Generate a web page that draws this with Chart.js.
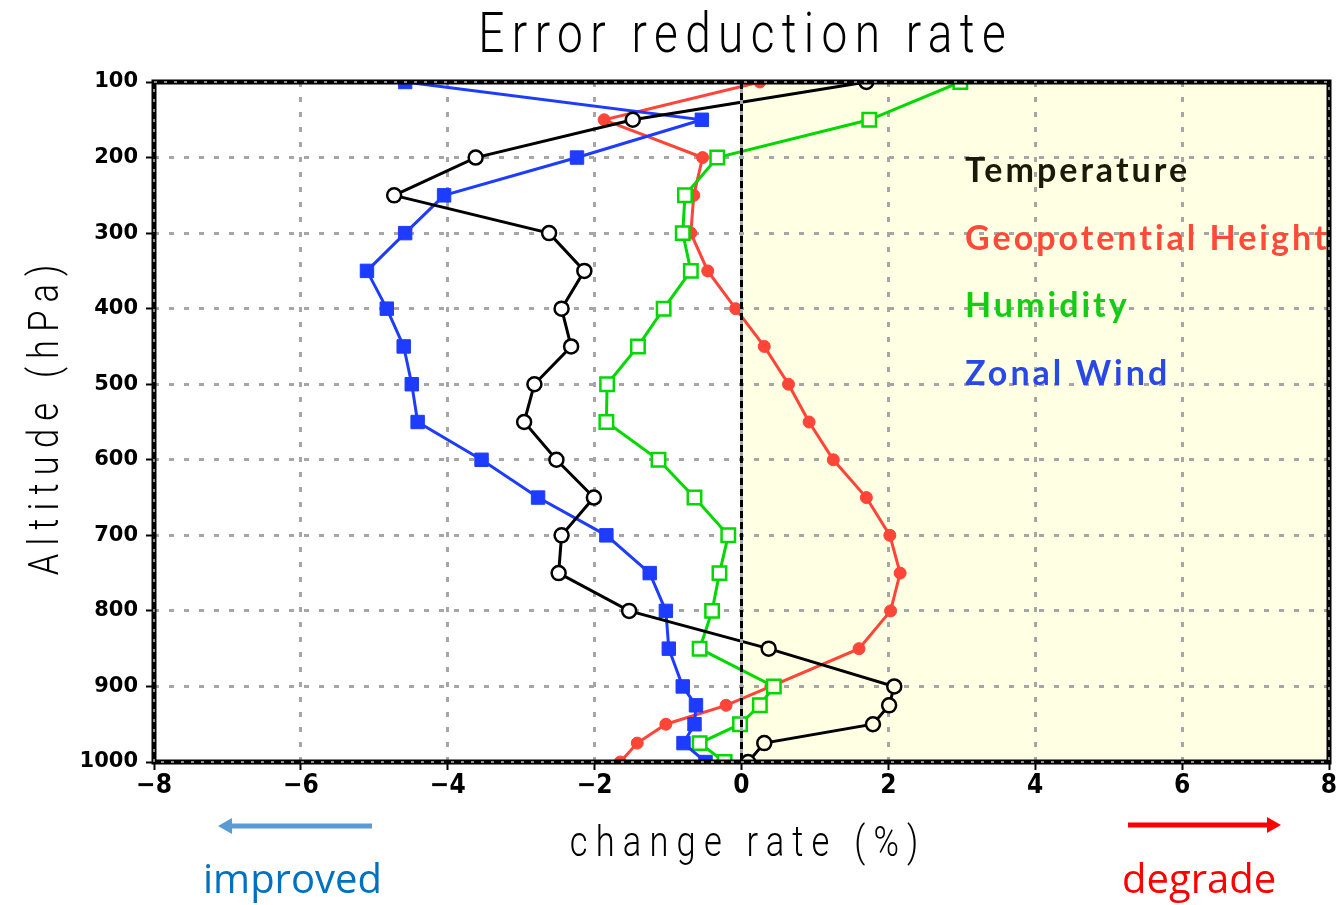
<!DOCTYPE html>
<html>
<head>
<meta charset="utf-8">
<title>Error reduction rate</title>
<script src="https://cdn.jsdelivr.net/npm/chart.js@4.4.1/dist/chart.umd.min.js"></script>
<style>
  html, body { margin: 0; padding: 0; background: #fff; overflow: hidden; }
  canvas { display: block; }
</style>
</head>
<body>
<canvas id="errorChart" width="1341" height="905"></canvas>
<script>
// pressure levels (hPa), top of the profile first
const levels = [100, 150, 200, 250, 300, 350, 400, 450, 500, 550, 600, 650, 700, 750, 800, 850, 900, 925, 950, 975, 1000];

// change rate (%) per level
const temperature = [1.70, -1.48, -3.62, -4.73, -2.62, -2.14, -2.45, -2.32, -2.82, -2.96, -2.52, -2.01, -2.45, -2.49, -1.53, 0.37, 2.08, 2.01, 1.79, 0.31, 0.09];
const geopotential = [0.25, -1.87, -0.53, -0.65, -0.69, -0.46, -0.08, 0.31, 0.64, 0.92, 1.25, 1.70, 2.02, 2.16, 2.03, 1.60, 0.40, -0.21, -1.03, -1.42, -1.65];
const humidity = [2.98, 1.74, -0.33, -0.77, -0.80, -0.69, -1.06, -1.41, -1.83, -1.84, -1.13, -0.64, -0.18, -0.30, -0.40, -0.57, 0.44, 0.25, -0.02, -0.57, -0.23];
const zonalWind = [-4.58, -0.54, -2.24, -4.05, -4.58, -5.10, -4.83, -4.60, -4.49, -4.41, -3.54, -2.77, -1.84, -1.25, -1.03, -0.99, -0.80, -0.62, -0.64, -0.79, -0.49];

const xTicks = [-8, -6, -4, -2, 0, 2, 4, 6, 8];
const yTicks = [100, 200, 300, 400, 500, 600, 700, 800, 900, 1000];

const SHADE = '#ffffe4';

function profile(values) {
    return values.map((v, i) => ({ x: v, y: levels[i] }));
}

// open markers take the colour of whatever is behind them
function openFill(ctx) {
    return ctx.raw && ctx.raw.x > 0 ? SHADE : '#ffffff';
}

// thin, horizontally squeezed lettering for the titles
function narrowText(ctx, text, x, y, size, spacing, angle) {
    ctx.save();
    ctx.translate(x, y);
    if (angle) ctx.rotate(angle);
    ctx.scale(0.82, 1);
    ctx.font = '300 ' + size + 'px Roboto, "Liberation Sans", sans-serif';
    ctx.letterSpacing = spacing + 'px';
    ctx.textAlign = 'center';
    ctx.fillText(text, spacing / 2, 0);
    ctx.restore();
}

function drawArrow(ctx, from, to, y, color) {
    const dir = Math.sign(to - from);
    const head = 14;
    ctx.save();
    ctx.strokeStyle = color;
    ctx.fillStyle = color;
    ctx.lineWidth = 5;
    ctx.beginPath();
    ctx.moveTo(from, y);
    ctx.lineTo(to - dir * head, y);
    ctx.stroke();
    ctx.beginPath();
    ctx.moveTo(to, y);
    ctx.lineTo(to - dir * head, y - 8);
    ctx.lineTo(to - dir * head, y + 8);
    ctx.closePath();
    ctx.fill();
    ctx.restore();
}

const decorations = {
    id: 'decorations',
    beforeDraw(chart) {
        const { ctx, chartArea: a, scales: { x } } = chart;
        ctx.save();
        ctx.fillStyle = '#ffffff';
        ctx.fillRect(0, 0, chart.width, chart.height);
        // degraded half of the plot
        const x0 = x.getPixelForValue(0);
        ctx.fillStyle = SHADE;
        ctx.fillRect(x0, a.top, a.right - x0, a.bottom - a.top);
        ctx.restore();
    },
    afterDatasetsDraw(chart) {
        const { ctx, chartArea: a, scales: { x } } = chart;
        const x0 = x.getPixelForValue(0);
        ctx.save();
        // zero line
        ctx.lineWidth = 3;
        ctx.strokeStyle = '#a8a8a8';
        ctx.beginPath();
        ctx.moveTo(x0, a.top);
        ctx.lineTo(x0, a.bottom);
        ctx.stroke();
        ctx.setLineDash([7, 4]);
        ctx.strokeStyle = '#000';
        ctx.stroke();

        // heavy frame with dotted inlay
        ctx.setLineDash([]);
        ctx.lineWidth = 5;
        ctx.strokeStyle = '#000';
        ctx.strokeRect(a.left, a.top, a.right - a.left, a.bottom - a.top);
        ctx.setLineDash([3, 7]);
        ctx.lineWidth = 1.5;
        ctx.strokeStyle = '#b8b8b8';
        ctx.strokeRect(a.left, a.top, a.right - a.left, a.bottom - a.top);
        ctx.restore();
    },
    afterDraw(chart) {
        const { ctx } = chart;
        ctx.save();
        ctx.fillStyle = '#000';
        ctx.textBaseline = 'alphabetic';

        narrowText(ctx, 'Error reduction rate', 742, 52, 56, 9);
        narrowText(ctx, 'change rate (%)', 744, 856, 42, 10);
        narrowText(ctx, 'Altitude (hPa)', 58, 420, 42, 10, -Math.PI / 2);

        // legend, one line per series
        ctx.textAlign = 'left';
        ctx.font = 'bold 34px Lato';
        ctx.letterSpacing = '3px';
        chart.data.datasets.forEach((ds, i) => {
            ctx.fillStyle = ds.legendColor;
            ctx.fillText(ds.label, 965, 182 + i * 67.5);
        });

        // direction hints under the axis
        ctx.letterSpacing = '0px';
        ctx.font = '40px "Open Sans"';
        ctx.fillStyle = '#0070c0';
        ctx.fillText('improved', 203, 893);
        ctx.fillStyle = '#ff0000';
        ctx.fillText('degrade', 1122, 893);

        drawArrow(ctx, 372, 218, 826, '#5b9bd5');
        drawArrow(ctx, 1128, 1281, 825, '#ff0000');
        ctx.restore();
    }
};

const ctx = document.getElementById('errorChart').getContext('2d');

new Chart(ctx, {
    type: 'scatter',
    data: {
        datasets: [
            {
                label: 'Temperature',
                data: profile(temperature),
                legendColor: '#1a1a08',
                borderColor: '#000000',
                backgroundColor: openFill,
                pointStyle: 'circle',
                pointRadius: 7,
                pointBorderWidth: 2.5,
                borderWidth: 3,
                showLine: true,
                order: 0
            },
            {
                label: 'Geopotential Height',
                data: profile(geopotential),
                legendColor: '#ff4a3a',
                borderColor: '#ff4438',
                backgroundColor: '#ff4438',
                pointStyle: 'circle',
                pointRadius: 6,
                pointBorderWidth: 1,
                borderWidth: 3,
                showLine: true,
                order: 3
            },
            {
                label: 'Humidity',
                data: profile(humidity),
                legendColor: '#14cc14',
                borderColor: '#00d800',
                backgroundColor: openFill,
                pointStyle: 'rect',
                pointRadius: 9.5,
                pointBorderWidth: 2.5,
                borderWidth: 3,
                showLine: true,
                order: 2
            },
            {
                label: 'Zonal Wind',
                data: profile(zonalWind),
                legendColor: '#2a48e6',
                borderColor: '#1e3cff',
                backgroundColor: '#1e3cff',
                pointStyle: 'rect',
                pointRadius: 9.5,
                pointBorderWidth: 1,
                borderWidth: 3,
                showLine: true,
                order: 1
            }
        ]
    },
    options: {
        responsive: false,
        animation: false,
        devicePixelRatio: 1,
        layout: {
            padding: { top: 82, right: 7, left: 0, bottom: 0 }
        },
        plugins: {
            legend: { display: false },
            tooltip: { enabled: false }
        },
        scales: {
            x: {
                type: 'linear',
                min: -8,
                max: 8,
                afterFit: scale => { scale.height = 143; },
                afterBuildTicks: scale => { scale.ticks = xTicks.map(v => ({ value: v })); },
                ticks: {
                    padding: 1,
                    color: '#000',
                    font: { family: '"DejaVu Sans Condensed", "Liberation Sans", sans-serif', size: 26, weight: 'bold' },
                    callback: v => (v < 0 ? '\u2212' + Math.abs(v) : String(v))
                },
                grid: {
                    color: '#a6a6a6',
                    lineWidth: 3,
                    tickColor: '#000',
                    tickWidth: 2,
                    tickLength: 8
                },
                border: { display: false, dash: [5, 10] }
            },
            y: {
                type: 'linear',
                reverse: true,
                min: 100,
                max: 1000,
                afterFit: scale => { scale.width = 154; },
                afterBuildTicks: scale => { scale.ticks = yTicks.map(v => ({ value: v })); },
                ticks: {
                    padding: 8,
                    color: '#000',
                    font: { family: '"DejaVu Sans"', size: 21, weight: 'bold' },
                    callback: v => String(v)
                },
                grid: {
                    color: '#a6a6a6',
                    lineWidth: 3,
                    tickColor: '#000',
                    tickWidth: 2,
                    tickLength: 8
                },
                border: { display: false, dash: [5, 10] }
            }
        }
    },
    plugins: [decorations]
});
</script>
</body>
</html>
